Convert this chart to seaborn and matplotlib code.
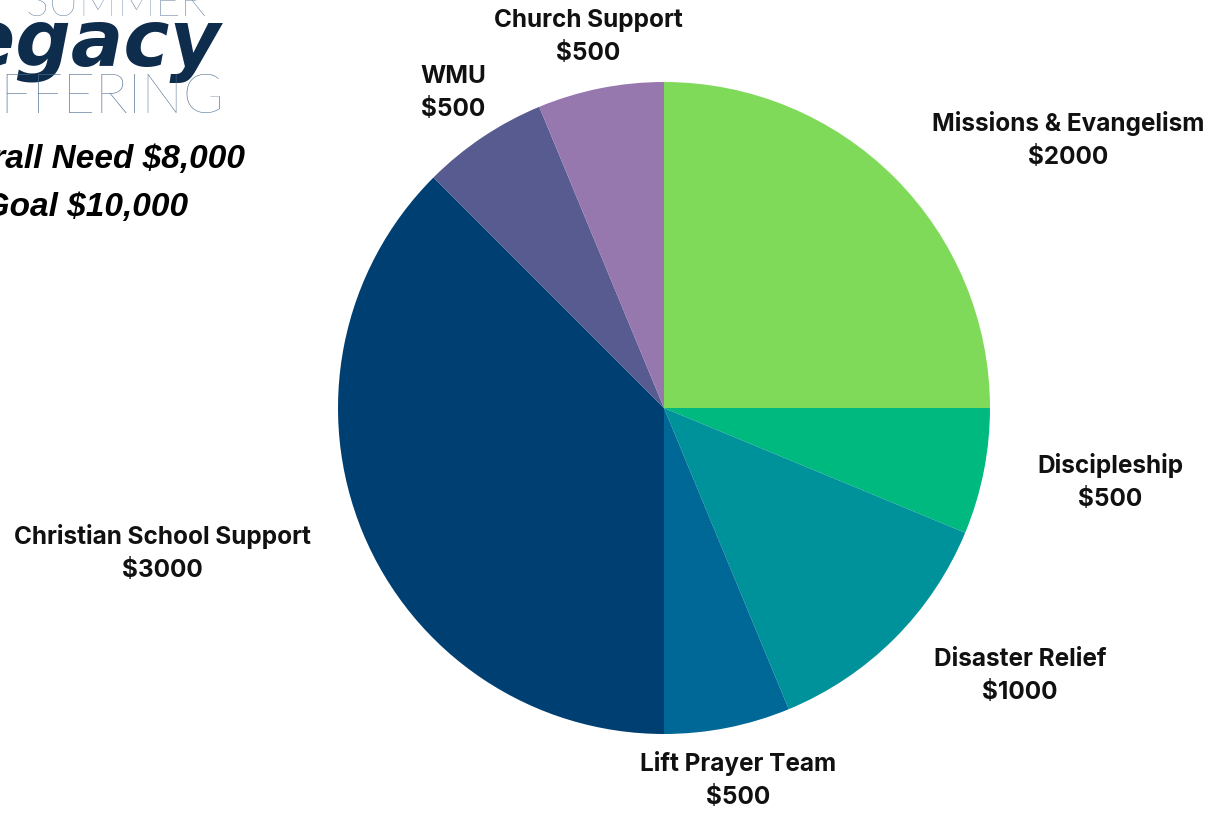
import matplotlib
matplotlib.use("Agg")
import matplotlib.pyplot as plt
import seaborn as sns

# ── Data ─────────────────────────────────────────────────────────────────────
categories = ["Missions & Evangelism", "Discipleship", "Disaster Relief",
              "Lift Prayer Team", "Christian School Support", "WMU", "Church Support"]
amounts = [2000, 500, 1000, 500, 3000, 500, 500]
colors = ["#80DA5A", "#00B97F", "#00929A", "#006896", "#003F72", "#575B8F", "#9677AE"]

# label anchor points in pixels (x, y from top) - layout only
label_pos = [(1068, 140), (1110, 482), (1020, 676), (738, 780),
             (162, 553), (453, 93), (588, 37)]

W, H = 1214, 814

sns.set_theme(style="white")
plt.rcParams["font.family"] = ["Inter", "DejaVu Sans"]

fig = plt.figure(figsize=(W / 100, H / 100), dpi=100, facecolor="white")

# pie axes: centre (664, 408), radius 326 px
cx, cy, r = 664, 408, 326
ax = fig.add_axes([(cx - r) / W, (H - cy - r) / H, 2 * r / W, 2 * r / H])
ax.pie(amounts, colors=sns.color_palette(colors), startangle=90, counterclock=False,
       radius=1, wedgeprops=dict(linewidth=0))
ax.set_xlim(-1, 1)
ax.set_ylim(-1, 1)
ax.set_aspect("equal")
ax.axis("off")

for cat, amt, (px, py) in zip(categories, amounts, label_pos):
    fig.text(px / W, 1 - py / H, f"{cat}\n${amt}", ha="center", va="center",
             fontsize=17.5, fontweight="bold", color="#111111", linespacing=1.6)

# ── Logo (cut off at the left edge) ──────────────────────────────────────────
fig.text(207 / W, 1 - 16 / H, "SUMMER", ha="right", va="baseline",
         fontsize=31, family=["Lato", "DejaVu Sans"], fontweight="light", color="#4F7090")
fig.text(220 / W, 1 - 66 / H, "Legacy", ha="right", va="baseline",
         fontsize=56, family=["DejaVu Sans"], fontweight="heavy", style="italic",
         color="#0E2C4B")
fig.text(224 / W, 1 - 113 / H, "OFFERING", ha="right", va="baseline",
         fontsize=40, family=["Lato", "DejaVu Sans"], fontweight="light", color="#4F7090")

# ── Goal text ────────────────────────────────────────────────────────────────
fig.text(245 / W, 1 - 168 / H, "Overall Need $8,000", ha="right", va="baseline",
         fontsize=24, family=["Liberation Sans", "DejaVu Sans"], fontweight="bold",
         style="italic", color="black")
fig.text(188 / W, 1 - 216 / H, "Our Goal $10,000", ha="right", va="baseline",
         fontsize=24, family=["Liberation Sans", "DejaVu Sans"], fontweight="bold",
         style="italic", color="black")

fig.savefig("out.png", dpi=100, facecolor="white")
